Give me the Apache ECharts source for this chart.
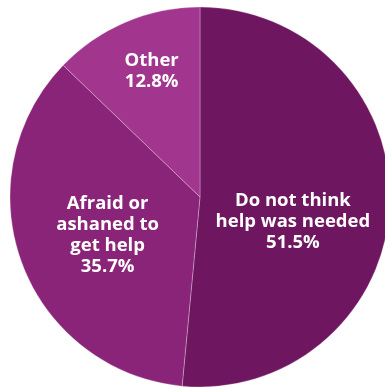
<!DOCTYPE html>
<html>
<head>
<meta charset="utf-8">
<script src="https://cdn.jsdelivr.net/npm/echarts@6/dist/echarts.min.js"></script>
<style>
html,body{margin:0;padding:0;background:#ffffff;}
#chart{width:385px;height:388px;}
</style>
</head>
<body>
<div id="chart"></div>
<script>
var categories = ["Do not think\nhelp was needed", "Afraid or\nashaned to\nget help", "Other"];
var values = [51.5, 35.7, 12.8];
var colors = ["#6e1660", "#8a2478", "#a2368f"];
var labelShift = [[-5, 20], [-0.5, 4], [-10, -36]];

var chart = echarts.init(document.getElementById('chart'), null, {renderer: 'canvas'});
chart.setOption({
  animation: false,
  backgroundColor: '#ffffff',
  series: [{
    type: 'pie',
    center: [200, 197],
    radius: [0, 190],
    startAngle: 90,
    clockwise: true,
    silent: true,
    data: categories.map(function (c, i) {
      return { name: c, value: values[i], itemStyle: { color: colors[i] } };
    }),
    itemStyle: { borderColor: 'rgba(255,255,255,0.35)', borderWidth: 0.8 },
    label: {
      show: true,
      position: 'inside',
      color: '#ffffff',
      fontFamily: 'Open Sans',
      fontWeight: 'bold',
      fontSize: 18.5,
      lineHeight: 21,
      align: 'center',
      formatter: function (p) { return p.name + '\n' + p.value.toFixed(1) + '%'; }
    },
    labelLine: { show: false },
    labelLayout: function (p) {
      var s = labelShift[p.dataIndex];
      return { dx: s[0], dy: s[1] };
    }
  }]
});
</script>
</body>
</html>
